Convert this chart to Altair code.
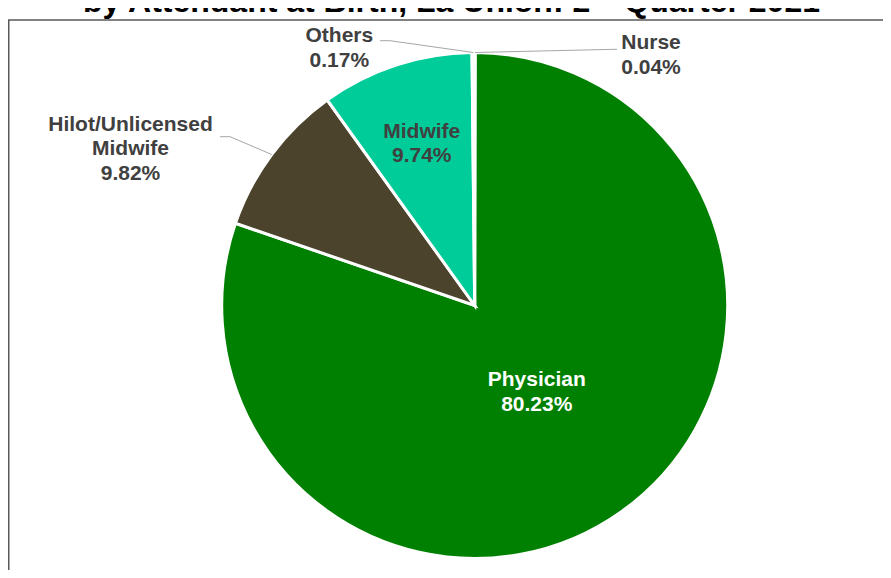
import altair as alt
import pandas as pd

# ---- data ----
categories = ["Nurse", "Physician", "Hilot/Unlicensed Midwife", "Midwife", "Others"]
shares = [0.04, 80.23, 9.82, 9.74, 0.17]
slice_colors = ["#BFBFBF", "#008000", "#4B432C", "#00CC99", "#D0D0D0"]
title_text = "by Attendant at Birth, La Union: 2ⁿᵈ Quarter 2021"

df = pd.DataFrame({"category": categories, "share": shares, "idx": list(range(len(categories)))})

# ---- layout (pixels) ----
W, H = 875, 562
CX, CY, R = 466.7, 297.5, 253
FONT = "Liberation Sans"
LABEL_SIZE = 21
LINE_H = 24.5

# label layout: category, radius, dx, dy, colour  (dy centres multi-line blocks)
label_layout = [
    ("Physician", 107, 0, -LINE_H / 2, "white"),
    ("Midwife", 170, 0, -LINE_H / 2, "#404040"),
    ("Others", 257, -134, -LINE_H / 2, "#404040"),
    ("Nurse", 250, 176, -LINE_H / 2, "#404040"),
    ("Hilot/Unlicensed Midwife", 262, -134, -LINE_H, "#404040"),
]
# leader lines: category, elbow (x, y), end (x, y)
leader_layout = [
    ("Hilot/Unlicensed Midwife", (222, 128.7), (212, 128.7)),
    ("Others", (382, 32.7), (372, 32.7)),
    ("Nurse", (606, 41.3), (609, 41.3)),
]

base = alt.Chart(df)
theta = alt.Theta("share:Q", stack=True)
order = alt.Order("idx:Q", sort="ascending")

frame = alt.Chart(pd.DataFrame({"a": [0]})).mark_rect(
    fillOpacity=0, stroke="#595959", strokeWidth=1.5
).encode(x=alt.value(0.75), x2=alt.value(W + 30), y=alt.value(12), y2=alt.value(H + 30))

pie = base.mark_arc(outerRadius=R, stroke="white", strokeWidth=3).encode(
    theta=theta,
    order=order,
    color=alt.Color("category:N", scale=alt.Scale(domain=categories, range=slice_colors), legend=None),
    x=alt.value(CX),
    y=alt.value(CY),
)

label_expr = (
    "replace(datum.category, 'Unlicensed ', 'Unlicensed\\n') + '\\n' + format(datum.share, '.2f') + '%'"
)

text_layers = []
for cat, r, dx, dy, col in label_layout:
    t = base.transform_calculate(
        lbl=label_expr
    ).transform_calculate(
        t=f"datum.category === '{cat}' ? datum.lbl : ''"
    ).mark_text(
        radius=r, dx=dx, dy=dy, font=FONT, fontSize=LABEL_SIZE, fontWeight="bold",
        color=col, align="center", baseline="middle", lineBreak="\n", lineHeight=LINE_H,
    ).encode(
        theta=theta, order=order, detail="category:N", text="t:N",
        x=alt.value(CX), y=alt.value(CY),
    )
    text_layers.append(t)

geo = base.transform_joinaggregate(total="sum(share)").transform_window(
    cum="sum(share)", sort=[alt.SortField("idx")], frame=[None, 0]
).transform_calculate(
    mid="(datum.cum - datum.share / 2) / datum.total * 2 * PI",
    ex=f"{CX} + {R} * sin(datum.mid)",
    ey=f"{CY} - {R} * cos(datum.mid)",
)

line_layers = []
for cat, (bx, by), (ox, oy) in leader_layout:
    g = geo.transform_filter(f"datum.category === '{cat}'").transform_calculate(
        bx=str(bx), by=str(by), ox=str(ox), oy=str(oy)
    )
    seg1 = g.mark_rule(color="#A6A6A6", strokeWidth=1).encode(
        x=alt.X("ex:Q", scale=None, axis=None), y=alt.Y("ey:Q", scale=None, axis=None),
        x2="bx:Q", y2="by:Q",
    )
    seg2 = g.mark_rule(color="#A6A6A6", strokeWidth=1).encode(
        x=alt.X("bx:Q", scale=None, axis=None), y=alt.Y("by:Q", scale=None, axis=None),
        x2="ox:Q", y2="oy:Q",
    )
    line_layers += [seg1, seg2]

title = alt.Chart(pd.DataFrame({"t": [title_text]})).mark_text(
    font=FONT, fontSize=32, fontWeight="bold", color="black", align="center", baseline="alphabetic"
).encode(text="t:N", x=alt.value(443.5), y=alt.value(4))

chart = alt.layer(frame, pie, *line_layers, *text_layers, title).properties(
    width=W, height=H, padding=0, autosize=alt.AutoSizeParams(type="none"), background="white"
).configure_view(stroke=None)

chart.save("out.html", embed_options={"renderer": "svg", "actions": False})
